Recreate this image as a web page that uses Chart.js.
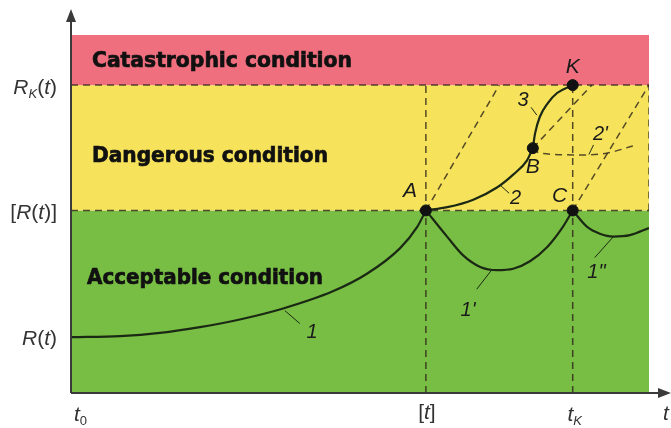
<!DOCTYPE html>
<html>
<head>
<meta charset="utf-8">
<script src="https://cdn.jsdelivr.net/npm/chart.js@4"></script>
<style>
  html, body { margin: 0; padding: 0; background: #fff; }
  #chart-wrap { width: 671px; height: 428px; }
</style>
</head>
<body>
<div id="chart-wrap"><canvas id="state-chart" width="671" height="428"></canvas></div>
<script>
// Condition zones (value range on the R axis)
const zoneNames = ['Acceptable condition', 'Dangerous condition', 'Catastrophic condition'];
const zoneFrom = [0, 51, 86];
const zoneTo = [51, 86, 100];
const zoneColors = ['#78be44', '#f6e35b', '#ef6f7e'];

// Level ticks on the R axis and the t axis
const levelValues = [15.6, 51, 86];
const levelLabels = ['R(t)', '[R(t)]', 'RK(t)'];
const timeValues = [0, 61.4, 86.8];
const timeLabels = ['t0', '[t]', 'tK'];

// Curves (x = time, y = R)
const curve1 = [[0, 15.6], [8.5, 15.9], [15.4, 16.8], [22.3, 18.4], [29.4, 20.6], [36.7, 23.6],
  [45.3, 28.4], [51.2, 33.3], [56.9, 40.4], [59.9, 46.4], [61.4, 51]];
const curve1p = [[61.4, 51], [65.1, 43.6], [67.8, 38.5], [70.8, 35.2], [73.7, 34.3], [76.5, 34.7],
  [79.4, 36.8], [82.4, 40.8], [85.1, 46.4], [86.8, 51]];
const curve1pp = [[86.8, 51], [89.3, 46.4], [91.5, 44.5], [93.8, 43.7], [96.7, 44.1], [100, 46.1]];
const curve2 = [[61.4, 51], [65.1, 51.9], [69.6, 54.0], [73.7, 57.4], [76.5, 61.0], [78.9, 65.0], [79.9, 68.4]];
const curve3 = [[79.9, 68.4], [80.3, 72.6], [81.1, 77.1], [82.5, 81.0], [84.1, 83.8], [86.8, 86]];
const curve2p = [[79.9, 68.4], [81.1, 67.0], [88.1, 66.5], [92.7, 67.0], [97.2, 69.0]];

// Dashed guide lines
const guideA = [[61.4, 51], [74.1, 86]];
const guideB = [[79.9, 68.4], [90.1, 86]];
const guideC = [[86.8, 51], [100, 86]];

// Key points
const pointNames = ['A', 'B', 'C', 'K'];
const pointX = [61.4, 79.9, 86.8, 86.8];
const pointY = [51, 68.4, 51, 86];

// Curve numbers with their leader lines
const curveTags = ['1', "1'", '1"', '2', '3', "2'"];
const tagX = [41.7, 68.7, 90.9, 76.9, 78.2, 91.6];
const tagY = [17.0, 23.0, 33.6, 54.3, 81.8, 72.2];
const leaders = [
  [[37.0, 23.0], [39.6, 19.4]],
  [[72.8, 34.4], [70.2, 29.0]],
  [[93.8, 43.6], [90.6, 37.8]],
  [[74.3, 58.0], [75.8, 55.8]],
  [[79.6, 79.8], [80.6, 77.6]],
  [[89.6, 66.6], [90.4, 69.3]]
];

const toXY = arr => arr.map(p => ({ x: p[0], y: p[1] }));
const ink = '#1b2914';
const dashInk = 'rgba(45, 35, 25, 0.8)';

function curveSet(arr) {
  return { data: toXY(arr), showLine: true, borderColor: ink, borderWidth: 2.2,
    pointRadius: 0, cubicInterpolationMode: 'monotone', fill: false };
}
function dashSet(arr) {
  return { data: toXY(arr), showLine: true, borderColor: dashInk, borderWidth: 1.5,
    borderDash: [7, 5], pointRadius: 0, tension: 0, fill: false };
}
function thinSet(arr) {
  return { data: toXY(arr), showLine: true, borderColor: ink, borderWidth: 1,
    pointRadius: 0, tension: 0, fill: false };
}

const datasets = [];
// key points on top
datasets.push({ data: pointX.map((x, i) => ({ x: x, y: pointY[i] })), showLine: false,
  pointRadius: 5.5, pointBackgroundColor: '#111', pointBorderColor: '#111' });
[curve1, curve1p, curve1pp, curve2, curve3].forEach(c => datasets.push(curveSet(c)));
leaders.forEach(l => datasets.push(thinSet(l)));
datasets.push({ ...dashSet(curve2p), cubicInterpolationMode: 'monotone' });
[guideA, guideB, guideC].forEach(g => datasets.push(dashSet(g)));
// horizontal levels and vertical time marks
datasets.push(dashSet([[0, zoneFrom[1]], [100, zoneFrom[1]]]));
datasets.push(dashSet([[0, zoneFrom[2]], [100, zoneFrom[2]]]));
datasets.push(dashSet([[timeValues[1], 0], [timeValues[1], zoneFrom[2]]]));
datasets.push(dashSet([[timeValues[2], 0], [timeValues[2], zoneFrom[2]]]));
datasets.push(dashSet([[100, zoneFrom[1]], [100, zoneFrom[2]]]));

// Draw rich label: R/t italic, K/0 subscript
function drawRich(ctx, parts, x, y, align, size) {
  const fontFor = p => (p.it ? 'italic ' : '') + (p.sub ? size * 0.62 : size) + 'px "Liberation Sans", Arial, sans-serif';
  let w = 0;
  parts.forEach(p => { ctx.font = fontFor(p); w += ctx.measureText(p.t).width; });
  let cx = align === 'right' ? x - w : (align === 'center' ? x - w / 2 : x);
  ctx.textAlign = 'left';
  ctx.textBaseline = 'middle';
  parts.forEach(p => {
    ctx.font = fontFor(p);
    ctx.fillText(p.t, cx, p.sub ? y + size * 0.3 : y);
    cx += ctx.measureText(p.t).width;
  });
}

const labelParts = {
  'R(t)': [{ t: 'R', it: true }, { t: '(' }, { t: 't', it: true }, { t: ')' }],
  '[R(t)]': [{ t: '[' }, { t: 'R', it: true }, { t: '(' }, { t: 't', it: true }, { t: ')]' }],
  'RK(t)': [{ t: 'R', it: true }, { t: 'K', it: true, sub: true }, { t: '(' }, { t: 't', it: true }, { t: ')' }],
  't0': [{ t: 't', it: true }, { t: '0', sub: true }],
  '[t]': [{ t: '[' }, { t: 't', it: true }, { t: ']' }],
  'tK': [{ t: 't', it: true }, { t: 'K', it: true, sub: true }],
  't': [{ t: 't', it: true }]
};

const backdrop = {
  id: 'backdrop',
  beforeDatasetsDraw(chart) {
    const { ctx, chartArea: a, scales: { x, y } } = chart;
    ctx.save();
    zoneNames.forEach((name, i) => {
      const top = y.getPixelForValue(zoneTo[i]);
      const bot = y.getPixelForValue(zoneFrom[i]);
      ctx.fillStyle = zoneColors[i];
      ctx.fillRect(a.left, top, a.right - a.left, bot - top);
    });
    // zone captions, squeezed to the reference width
    const capY = [284, 162, 67];
    const capX = [87, 92, 92];
    const capW = [236, 236, 260];
    ctx.fillStyle = '#111';
    ctx.strokeStyle = '#111';
    ctx.lineWidth = 0.7;
    ctx.textBaseline = 'alphabetic';
    ctx.textAlign = 'left';
    ctx.font = 'bold 21px "DejaVu Sans", Verdana, sans-serif';
    zoneNames.forEach((name, i) => {
      const w = ctx.measureText(name).width;
      ctx.save();
      ctx.translate(capX[i], capY[i]);
      ctx.scale(capW[i] / w, 1);
      ctx.fillText(name, 0, 0);
      ctx.strokeText(name, 0, 0);
      ctx.restore();
    });
    ctx.restore();
  },
  afterDatasetsDraw(chart) {
    const { ctx, chartArea: a, scales: { x, y } } = chart;
    ctx.save();
    // axes with arrows
    ctx.strokeStyle = '#3a3a3a';
    ctx.fillStyle = '#3a3a3a';
    ctx.lineWidth = 2;
    ctx.beginPath();
    ctx.moveTo(a.left, a.bottom);
    ctx.lineTo(a.left, 18);
    ctx.moveTo(a.left, a.bottom);
    ctx.lineTo(662, a.bottom);
    ctx.stroke();
    ctx.beginPath();
    ctx.moveTo(a.left, 9); ctx.lineTo(a.left - 5, 22); ctx.lineTo(a.left + 5, 22); ctx.closePath();
    ctx.fill();
    ctx.beginPath();
    ctx.moveTo(671, a.bottom); ctx.lineTo(658, a.bottom - 5); ctx.lineTo(658, a.bottom + 5); ctx.closePath();
    ctx.fill();

    // axis labels
    ctx.fillStyle = '#333';
    const yOff = [2, 3, 3];
    levelLabels.forEach((lab, i) => {
      drawRich(ctx, labelParts[lab], 57, y.getPixelForValue(levelValues[i]) + yOff[i], 'right', 21);
    });
    drawRich(ctx, labelParts['t0'], 74, 415, 'left', 21);
    drawRich(ctx, labelParts['[t]'], x.getPixelForValue(timeValues[1]) + 1, 413, 'center', 21);
    drawRich(ctx, labelParts['tK'], x.getPixelForValue(timeValues[2]) + 2, 415, 'center', 21);
    drawRich(ctx, labelParts['t'], 666, 414, 'center', 21);

    // point names and curve numbers
    ctx.fillStyle = '#1a1a1a';
    ctx.textAlign = 'center';
    ctx.textBaseline = 'middle';
    ctx.font = 'italic 21px "Liberation Sans", Arial, sans-serif';
    const nameDx = [-16, 0, -13, 0];
    const nameDy = [-19, 19, -14, -18];
    pointNames.forEach((n, i) => {
      ctx.fillText(n, x.getPixelForValue(pointX[i]) + nameDx[i], y.getPixelForValue(pointY[i]) + nameDy[i]);
    });
    ctx.font = 'italic 20px "Liberation Sans", Arial, sans-serif';
    curveTags.forEach((t, i) => {
      ctx.fillText(t, x.getPixelForValue(tagX[i]), y.getPixelForValue(tagY[i]));
    });
    ctx.restore();
  }
};

new Chart(document.getElementById('state-chart'), {
  type: 'scatter',
  data: { datasets: datasets },
  options: {
    responsive: false,
    animation: false,
    layout: { padding: { left: 71, right: 22, top: 35, bottom: 35 } },
    scales: {
      x: { type: 'linear', min: 0, max: 100, display: false },
      y: { type: 'linear', min: 0, max: 100, display: false }
    },
    plugins: { legend: { display: false }, tooltip: { enabled: false } },
    elements: { line: { borderCapStyle: 'butt' } }
  },
  plugins: [backdrop]
});
</script>
</body>
</html>
